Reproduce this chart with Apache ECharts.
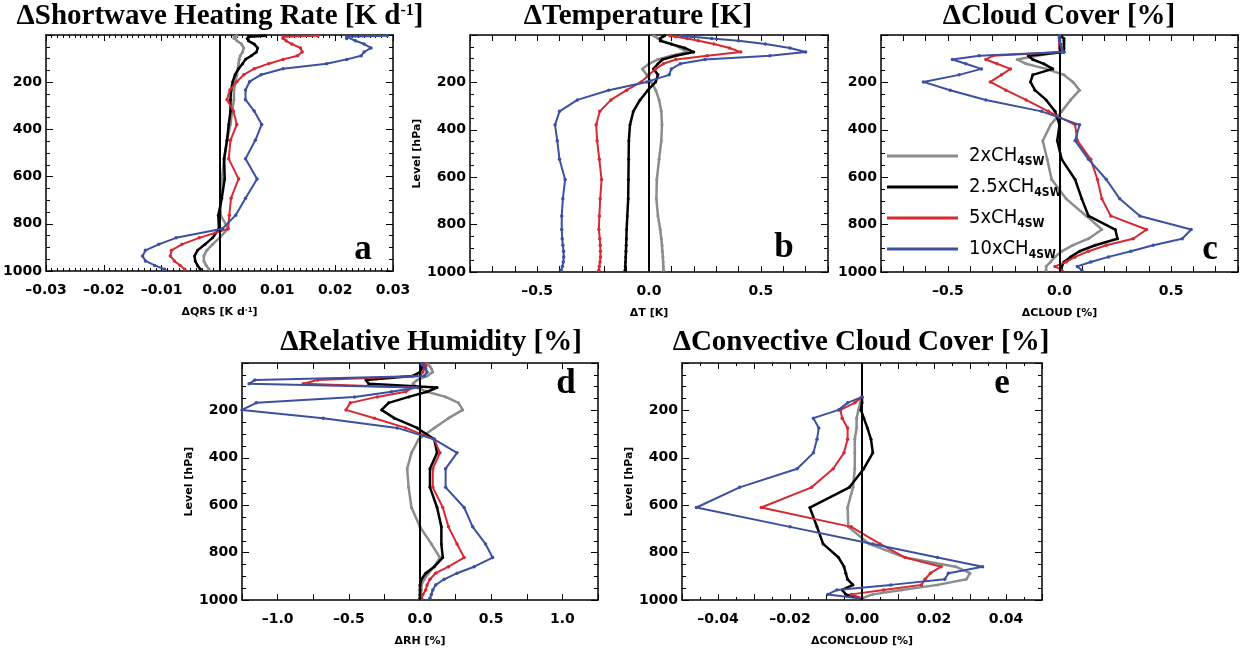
<!DOCTYPE html>
<html>
<head>
<meta charset="utf-8">
<script src="https://cdn.jsdelivr.net/npm/echarts@6/dist/echarts.min.js"></script>
<style>
  html, body { margin: 0; padding: 0; background: #ffffff; }
  #chart { width: 1244px; height: 649px; }
</style>
</head>
<body>
<div id="chart"></div>
<script>
// Model mid-level pressures (hPa), top of the atmosphere to the surface
const pressureLevels = [3.6, 7.6, 14.4, 24.6, 38.3, 54.6, 72.0, 87.8, 103.3, 121.5,
  143.0, 168.2, 197.9, 232.8, 273.9, 322.2, 379.1, 446.0, 524.7, 609.8,
  691.4, 763.4, 820.9, 859.5, 887.0, 912.6, 936.2, 957.5, 976.3, 992.6];

// Experiment names (the "4SW" part is written as a subscript)
const scenarioLabels = ['2xCH', '2.5xCH', '5xCH', '10xCH'];
const scenarioSuffix = '4SW';

// a: change in shortwave heating rate (K/day)
const qrs2x  = [0.003, 0.0025, 0.0025, 0.003, 0.0038, 0.0042, 0.004, 0.0036, 0.0034, 0.0033, 0.0032, 0.003, 0.0028, 0.0025, 0.0025, 0.0022, 0.0019, 0.0013, 0.0008, 0.0004, 0.0002, 0.0002, 0.0015, 0.0, -0.0012, -0.0022, -0.0027, -0.0027, -0.0023, -0.0018];
const qrs25x = [0.008, 0.005, 0.0048, 0.005, 0.006, 0.0066, 0.0064, 0.0055, 0.0045, 0.004, 0.0033, 0.0027, 0.0023, 0.002, 0.0019, 0.0019, 0.0016, 0.0013, 0.0008, 0.0009, 0.0004, -0.0002, -0.0001, -0.0012, -0.0025, -0.0038, -0.0043, -0.0042, -0.0038, -0.0033];
const qrs5x  = [0.017, 0.011, 0.011, 0.0115, 0.0125, 0.014, 0.0143, 0.0135, 0.011, 0.0085, 0.006, 0.0042, 0.003, 0.0018, 0.0013, 0.0024, 0.003, 0.0019, 0.0016, 0.0033, 0.002, 0.0017, 0.0015, -0.0035, -0.0065, -0.0083, -0.0085, -0.0078, -0.0068, -0.006];
const qrs10x = [0.029, 0.022, 0.022, 0.0235, 0.025, 0.0262, 0.025, 0.0245, 0.022, 0.0185, 0.011, 0.0072, 0.0052, 0.0045, 0.0045, 0.006, 0.0073, 0.0062, 0.0045, 0.0065, 0.0045, 0.0028, 0.0005, -0.0075, -0.0105, -0.0128, -0.0133, -0.0128, -0.0112, -0.0095];

// b: change in temperature (K)
const dT2x  = [0.02, 0.03, 0.04, 0.06, 0.1, 0.14, 0.17, 0.1, 0.04, 0.0, -0.03, -0.01, 0.01, 0.03, 0.045, 0.055, 0.058, 0.055, 0.045, 0.035, 0.033, 0.04, 0.05, 0.055, 0.058, 0.06, 0.062, 0.063, 0.064, 0.065];
const dT25x = [0.07, 0.06, 0.05, 0.05, 0.1, 0.16, 0.2, 0.12, 0.06, 0.04, 0.02, 0.04, 0.03, -0.005, -0.04, -0.07, -0.085, -0.09, -0.091, -0.092, -0.093, -0.097, -0.1, -0.101, -0.102, -0.103, -0.104, -0.105, -0.106, -0.107];
const dT5x  = [0.094, 0.12, 0.17, 0.22, 0.29, 0.36, 0.41, 0.26, 0.12, 0.064, 0.03, 0.0, -0.035, -0.1, -0.17, -0.22, -0.236, -0.232, -0.222, -0.212, -0.218, -0.222, -0.224, -0.22, -0.218, -0.217, -0.217, -0.219, -0.222, -0.224];
const dT10x = [0.146, 0.19, 0.28, 0.40, 0.52, 0.63, 0.70, 0.54, 0.25, 0.14, 0.10, 0.09, -0.01, -0.18, -0.32, -0.40, -0.42, -0.41, -0.40, -0.375, -0.385, -0.39, -0.39, -0.388, -0.385, -0.382, -0.381, -0.383, -0.387, -0.393];

// c: change in cloud cover (%)
const cld2x  = [0, 0, 0, 0, 0, 0, 0, -0.1, -0.19, -0.15, -0.06, 0.02, 0.06, 0.09, 0.05, 0.01, -0.04, -0.075, -0.055, -0.035, 0.03, 0.12, 0.19, 0.13, 0.06, 0.01, -0.02, -0.04, -0.06, -0.06];
const cld25x = [0.0, 0.01, 0.02, 0.02, 0.02, 0.02, 0.02, -0.14, -0.12, -0.07, -0.03, -0.12, -0.13, -0.11, -0.06, -0.02, 0.0, -0.01, 0.01, 0.07, 0.10, 0.13, 0.25, 0.26, 0.16, 0.09, 0.05, 0.02, 0.01, 0.01];
const cld5x  = [0, 0, 0, 0, 0, 0, 0.01, -0.30, -0.33, -0.28, -0.22, -0.26, -0.31, -0.24, -0.15, -0.05, 0.07, 0.08, 0.14, 0.17, 0.19, 0.23, 0.39, 0.33, 0.21, 0.13, 0.07, 0.03, -0.02, 0.01];
const cld10x = [0, 0, 0, 0, 0.005, 0.01, 0.02, -0.36, -0.48, -0.42, -0.35, -0.45, -0.61, -0.49, -0.33, -0.08, 0.09, 0.07, 0.13, 0.21, 0.27, 0.36, 0.59, 0.55, 0.42, 0.32, 0.22, 0.14, 0.08, 0.10];

// d: change in relative humidity (%)
const rh2x  = [0.05, 0.06, 0.07, 0.08, 0.09, 0.05, -0.02, -0.05, -0.02, 0.05, 0.18, 0.27, 0.3, 0.2, 0.1, -0.01, -0.06, -0.09, -0.08, -0.06, 0.0, 0.08, 0.14, 0.1, 0.06, 0.03, 0.01, 0.01, 0.0, 0.0];
const rh25x = [0.02, 0.02, 0.02, 0.01, 0.0, -0.05, -0.38, -0.36, 0.12, 0.05, -0.08, -0.22, -0.27, -0.18, -0.02, 0.1, 0.12, 0.07, 0.07, 0.12, 0.15, 0.15, 0.16, 0.1, 0.04, 0.01, 0.0, 0.0, 0.0, 0.0];
const rh5x  = [0.03, 0.04, 0.04, 0.03, 0.02, 0.0, -0.72, -0.82, -0.05, -0.1, -0.3, -0.49, -0.52, -0.32, -0.1, 0.1, 0.14, 0.09, 0.09, 0.16, 0.2, 0.26, 0.31, 0.2, 0.11, 0.07, 0.05, 0.04, 0.02, 0.01];
const rh10x = [0.01, 0.02, 0.03, 0.04, 0.05, 0.03, -1.16, -1.2, -0.02, -0.2, -0.46, -1.15, -1.25, -0.68, -0.16, 0.1, 0.26, 0.18, 0.18, 0.31, 0.37, 0.46, 0.51, 0.38, 0.26, 0.17, 0.11, 0.09, 0.08, 0.07];

// e: change in convective cloud cover (%); no convective cloud above ~140 hPa
const conc2x  = [null, null, null, null, null, null, null, null, null, null, 0.0, -0.0005, -0.001, -0.0015, -0.0015, -0.002, -0.002, -0.002, -0.0025, -0.004, -0.0038, 0.002, 0.012, 0.026, 0.030, 0.029, 0.021, 0.011, 0.003, 0.0];
const conc25x = [null, null, null, null, null, null, null, null, null, null, 0.0, 0.0, -0.0003, 0.0005, 0.0015, 0.0025, 0.003, 0.0005, -0.0035, -0.0145, -0.0125, -0.0108, -0.0065, -0.005, -0.0045, -0.004, -0.0025, -0.0055, -0.0045, -0.0005];
const conc5x  = [null, null, null, null, null, null, null, null, null, null, 0.0, -0.002, -0.006, -0.0055, -0.004, -0.004, -0.005, -0.008, -0.014, -0.028, -0.003, 0.005, 0.012, 0.022, 0.019, 0.0175, 0.0165, 0.006, -0.003, 0.0];
const conc10x = [null, null, null, null, null, null, null, null, null, null, 0.0, -0.004, -0.0065, -0.0135, -0.012, -0.0125, -0.0135, -0.018, -0.034, -0.046, -0.02, 0.003, 0.021, 0.0335, 0.024, 0.023, 0.008, -0.007, -0.0095, -0.001];

// Pressure axis ticks
const levelTicks = [200, 400, 600, 800, 1000];

const lineColors = ['#8c8c8c', '#000000', '#d62a32', '#3c50a0'];
const lineWidths = [2.5, 2.5, 2, 2];
const symbolSizes = [3, 3, 3.5, 3.5];

const serifFont = '"Liberation Serif", "Times New Roman", "DejaVu Serif", serif';
const sansFont = '"DejaVu Sans", "Liberation Sans", sans-serif';
const narrowFont = '"Liberation Sans Narrow", "DejaVu Sans Condensed", "Liberation Sans", sans-serif';

const dash = s => s.replace('-', '\u2013');

const panels = [
  {
    letter: 'a', title: '\u0394Shortwave Heating Rate [K d{s|-1}]', xName: '\u0394QRS [K d{s|-1}]', yName: '',
    values: [qrs2x, qrs25x, qrs5x, qrs10x],
    grid: { left: 45, top: 35, width: 348, height: 236 },
    x: { min: -0.03, max: 0.03, interval: 0.01, minor: 10, fmt: v => dash(v.toFixed(2)) },
    titlePos: [220, 17], letterPos: [363, 250]
  },
  {
    letter: 'b', title: '\u0394Temperature [K]', xName: '\u0394T [K]', yName: 'Level [hPa]',
    values: [dT2x, dT25x, dT5x, dT10x],
    grid: { left: 470, top: 35, width: 358, height: 237 },
    x: { min: -0.8, max: 0.8, interval: 0.1, minor: 0, fmt: v => { const k = Math.round(v * 10); return k % 5 === 0 ? dash((k / 10).toFixed(1)) : ''; } },
    titlePos: [638, 17], letterPos: [784, 248]
  },
  {
    letter: 'c', title: '\u0394Cloud Cover [%]', xName: '\u0394CLOUD [%]', yName: '',
    values: [cld2x, cld25x, cld5x, cld10x],
    grid: { left: 881, top: 35, width: 357, height: 237 },
    x: { min: -0.8, max: 0.8, interval: 0.1, minor: 0, fmt: v => { const k = Math.round(v * 10); return k % 5 === 0 ? dash((k / 10).toFixed(1)) : ''; } },
    titlePos: [1059, 17], letterPos: [1210, 250]
  },
  {
    letter: 'd', title: '\u0394Relative Humidity [%]', xName: '\u0394RH [%]', yName: 'Level [hPa]',
    values: [rh2x, rh25x, rh5x, rh10x],
    grid: { left: 242, top: 363, width: 356, height: 237 },
    x: { min: -1.25, max: 1.25, interval: 0.25, minor: 0, fmt: v => { const k = Math.round(v * 4); return k % 2 === 0 ? dash((k / 4).toFixed(1)) : ''; } },
    titlePos: [431, 343], letterPos: [566, 384]
  },
  {
    letter: 'e', title: '\u0394Convective Cloud Cover [%]', xName: '\u0394CONCLOUD [%]', yName: 'Level [hPa]',
    values: [conc2x, conc25x, conc5x, conc10x],
    grid: { left: 682, top: 363, width: 360, height: 237 },
    x: { min: -0.05, max: 0.05, interval: 0.01, minor: 2, fmt: v => { const k = Math.round(v * 100); return (k % 2 === 0 && Math.abs(k) < 5) ? dash((k / 100).toFixed(2)) : ''; } },
    titlePos: [861, 343], letterPos: [1002, 384]
  }
];

const boxLine = { show: true, onZero: false, lineStyle: { color: '#000', width: 1.5 } };
const tickStyle = { color: '#000', width: 1 };

const grids = [], xAxes = [], yAxes = [], series = [], graphics = [];

panels.forEach((p, i) => {
  grids.push(Object.assign({ containLabel: false }, p.grid));

  const xBase = {
    type: 'value', gridIndex: i, min: p.x.min, max: p.x.max, interval: p.x.interval,
    axisLine: boxLine, splitLine: { show: false },
    axisTick: { show: true, inside: true, length: 6, lineStyle: tickStyle },
    minorTick: { show: p.x.minor > 0, splitNumber: p.x.minor || 5, length: 3, lineStyle: tickStyle }
  };
  xAxes.push(Object.assign({}, xBase, {
    position: 'bottom',
    axisLabel: {
      show: true, margin: 12, color: '#000', fontFamily: sansFont, fontWeight: 'bold', fontSize: 14,
      formatter: p.x.fmt, showMinLabel: true, showMaxLabel: true
    },
    name: p.xName, nameLocation: 'middle', nameGap: 36,
    nameTextStyle: {
      color: '#000', fontFamily: sansFont, fontWeight: 'bold', fontSize: 11,
      rich: { s: { fontFamily: sansFont, fontWeight: 'bold', fontSize: 7, lineHeight: 8, verticalAlign: 'top', color: '#000' } }
    }
  }));
  xAxes.push(Object.assign({}, xBase, { position: 'top', axisLabel: { show: false } }));

  const yBase = {
    type: 'value', gridIndex: i, min: 0, max: 1000, interval: 200, inverse: true,
    axisLine: boxLine, splitLine: { show: false },
    axisTick: { show: true, inside: true, length: 7, lineStyle: tickStyle },
    minorTick: { show: true, splitNumber: 4, length: 4, lineStyle: tickStyle }
  };
  yAxes.push(Object.assign({}, yBase, {
    position: 'left',
    axisLabel: {
      show: true, margin: 4, color: '#000', fontFamily: sansFont, fontWeight: 'bold', fontSize: 14,
      formatter: v => (levelTicks.indexOf(Math.round(v)) >= 0 ? String(Math.round(v)) : '')
    },
    name: p.yName, nameLocation: 'middle', nameRotate: 90, nameGap: 44,
    nameTextStyle: { color: '#000', fontFamily: sansFont, fontWeight: 'bold', fontSize: 11 }
  }));
  yAxes.push(Object.assign({}, yBase, { position: 'right', axisLabel: { show: false } }));

  p.values.forEach((vals, k) => {
    const s = {
      name: scenarioLabels[k] + scenarioSuffix,
      type: 'line',
      xAxisIndex: 2 * i, yAxisIndex: 2 * i,
      data: pressureLevels.map((lev, j) => [vals[j], lev]).filter(d => d[0] !== null),
      symbol: 'circle', symbolSize: symbolSizes[k], showSymbol: true,
      lineStyle: { color: lineColors[k], width: lineWidths[k] },
      itemStyle: { color: lineColors[k] },
      clip: true, silent: true, animation: false, z: 2 + k
    };
    if (k === p.values.length - 1) {
      // zero reference line
      s.markLine = {
        symbol: 'none', silent: true, animation: false,
        label: { show: false },
        lineStyle: { color: '#000', width: 2, type: 'solid' },
        data: [{ xAxis: 0 }]
      };
    }
    series.push(s);
  });

  graphics.push({
    type: 'text', x: p.titlePos[0], y: p.titlePos[1], silent: true,
    style: {
      text: p.title, fill: '#000', fontFamily: serifFont, fontWeight: 'bold', fontSize: 29,
      align: 'center', verticalAlign: 'middle',
      rich: { s: { fontFamily: serifFont, fontWeight: 'bold', fontSize: 16, lineHeight: 16, verticalAlign: 'top', fill: '#000' } }
    }
  });
  graphics.push({
    type: 'text', x: p.letterPos[0], y: p.letterPos[1], silent: true,
    style: {
      text: p.letter, fill: '#000', fontFamily: serifFont, fontWeight: 'bold', fontSize: 35,
      align: 'center', verticalAlign: 'middle'
    }
  });
});

const chart = echarts.init(document.getElementById('chart'), null, { renderer: 'canvas' });
chart.setOption({
  backgroundColor: '#ffffff',
  animation: false,
  grid: grids,
  xAxis: xAxes,
  yAxis: yAxes,
  legend: {
    show: true, orient: 'vertical', left: 882, top: 141,
    itemWidth: 71, itemHeight: 3, itemGap: 9, icon: 'rect',
    selectedMode: false,
    data: scenarioLabels.map(l => l + scenarioSuffix),
    formatter: name => '{m|' + name.slice(0, name.length - scenarioSuffix.length) + '}{s|' + scenarioSuffix + '}',
    textStyle: {
      color: '#000',
      rich: {
        m: { fontFamily: narrowFont, fontSize: 20, lineHeight: 24, color: '#000', padding: [0, 0, 0, 6] },
        s: { fontFamily: narrowFont, fontWeight: 'bold', fontSize: 12, lineHeight: 12, verticalAlign: 'bottom', color: '#000' }
      }
    }
  },
  graphic: graphics,
  series: series
});
</script>
</body>
</html>
